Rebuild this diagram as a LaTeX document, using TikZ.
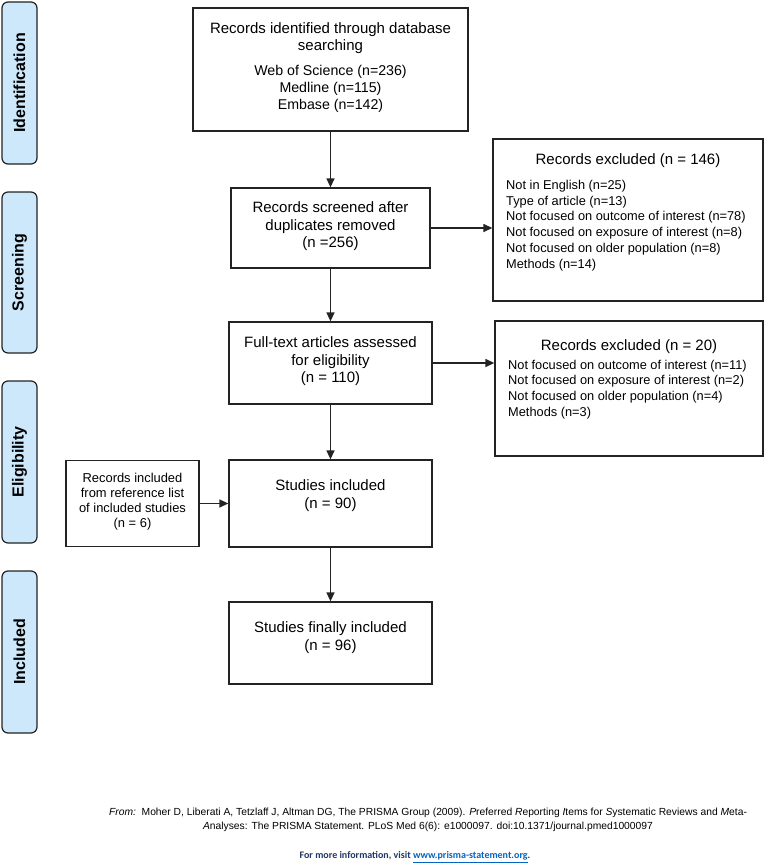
\documentclass[tikz,border=0pt]{standalone}
\usepackage{fontspec}
\setmainfont{Liberation Sans}
\newfontfamily\carlito{Carlito}
\usetikzlibrary{arrows.meta}
\definecolor{sidefill}{RGB}{204,232,250}
\definecolor{linecol}{RGB}{35,35,35}
\definecolor{infoblue}{RGB}{31,56,100}
\definecolor{linkblue}{RGB}{5,99,193}
\begin{document}
\begin{tikzpicture}[x=1pt,y=-1pt,
  box/.style={draw=linecol,line width=1.3pt,inner sep=0pt},
  side/.style={draw=linecol,line width=1.2pt,fill=sidefill,rounded corners=6pt,minimum width=35pt,inner sep=0pt},
  sidetext/.style={rotate=90,font=\fontsize{16}{19}\selectfont\bfseries,inner sep=0pt},
  main/.style={align=center,font=\fontsize{15}{17.5}\selectfont,inner sep=0pt},
  sub/.style={align=center,font=\fontsize{14.2}{16.7}\selectfont,inner sep=0pt},
  list/.style={align=left,anchor=west,font=\fontsize{12.8}{15.7}\selectfont,inner sep=0pt},
  small/.style={align=center,font=\fontsize{12.9}{15}\selectfont,inner sep=0pt},
  arr/.style={-{Triangle[length=9pt,width=8pt]},line width=1.3pt,draw=linecol}]
\useasboundingbox (0,0) rectangle (766,867);

% side labels
\node[side,minimum height=162pt] (sid) at (19.5,83) {};
\node[sidetext] (tid) at (sid.center) {Identification};
\node[side,minimum height=161pt] (ssc) at (19.5,272.5) {};
\node[sidetext] (tsc) at (ssc.center) {Screening};
\node[side,minimum height=162pt] (sel) at (19.5,462) {};
\node[sidetext] (tel) at (sel.center) {Eligibility};
\node[side,minimum height=162pt] (sin) at (19.5,652) {};
\node[sidetext] (tin) at (sin.center) {Included};

% boxes
\node[box,minimum width=275pt,minimum height=123pt] (b1) at (330.5,69.5) {};
\node[main] (t1a) at (330.5,38) {Records identified through database\\searching};
\node[sub] (t1b) at (330.5,89) {Web of Science (n=236)\\Medline (n=115)\\Embase (n=142)};

\node[box,minimum width=199pt,minimum height=80pt] (b2) at (330.5,228) {};
\node[main] (t2) at (330.5,226.5) {Records screened after\\duplicates removed\\(n =256)};

\node[box,minimum width=203pt,minimum height=82pt] (b3) at (330.5,363) {};
\node[main] (t3) at (330.5,361.5) {Full-text articles assessed\\for eligibility\\(n = 110)};

\node[box,minimum width=203pt,minimum height=87pt] (b4) at (330.5,503.5) {};
\node[main] (t4) at (330.5,495.5) {Studies included\\(n = 90)};

\node[box,minimum width=203pt,minimum height=82pt] (b5) at (330.5,643) {};
\node[main] (t5) at (330.5,637.5) {Studies finally included\\(n = 96)};

\node[box,minimum width=133pt,minimum height=86pt] (ref) at (132.5,503.5) {};
\node[small] (tref) at (132.5,502) {Records included\\from reference list\\of included studies\\(n = 6)};

\node[box,minimum width=270pt,minimum height=162pt] (ex1) at (628,220) {};
\node[main] (tex1) at (628,160.5) {Records excluded (n = 146)};
\node[list] (lex1) at (506,225.5) {Not in English (n=25)\\Type of article (n=13)\\Not focused on outcome of interest (n=78)\\Not focused on exposure of interest (n=8)\\Not focused on older population (n=8)\\Methods (n=14)};

\node[box,minimum width=268pt,minimum height=135pt] (ex2) at (629,388.5) {};
\node[main] (tex2) at (629,346.5) {Records excluded (n = 20)};
\node[list] (lex2) at (508,389.5) {Not focused on outcome of interest (n=11)\\Not focused on exposure of interest (n=2)\\Not focused on older population (n=4)\\Methods (n=3)};

% connectors
\draw[arr] (b1.south) -- (b2.north);
\draw[arr] (b2.south) -- (b3.north);
\draw[arr] (b3.south) -- (b4.north);
\draw[arr] (b4.south) -- (b5.north);
\draw[arr] (b2.east) -- (b2.east -| ex1.west);
\draw[arr] (b3.east) -- (b3.east -| ex2.west);
\draw[arr] (ref.east) -- (ref.east -| b4.west);

% footer
\node[align=center,inner sep=0pt,font=\fontsize{10.3}{14}\selectfont] (cite) at (428,819.5) {\textit{From:}\ \ Moher D, Liberati A, Tetzlaff J, Altman DG, The PRISMA Group (2009). \textit{P}referred \textit{R}eporting \textit{I}tems for \textit{S}ystematic Reviews and \textit{M}eta-\\\textit{A}nalyses: The PRISMA Statement. PLoS Med 6(6): e1000097. doi:10.1371/journal.pmed1000097};
\node[inner sep=0pt,font=\carlito\bfseries\fontsize{10}{12}\selectfont,text=infoblue] (info) at (415,857) {For more information, visit \textcolor{linkblue}{\underline{www.prisma-statement.org}}.};
\end{tikzpicture}
\end{document}
